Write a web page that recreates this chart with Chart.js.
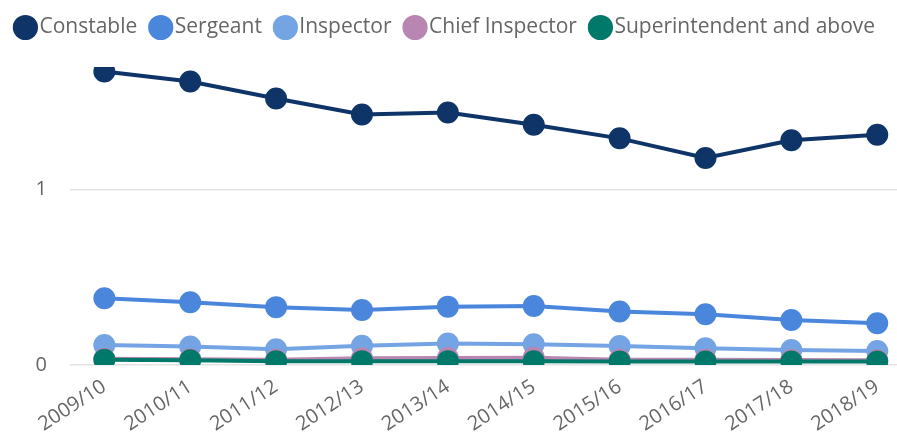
<!DOCTYPE html>
<html>
<head>
<meta charset="utf-8">
<script src="https://cdn.jsdelivr.net/npm/chart.js@4/dist/chart.umd.min.js"></script>
<style>
  html, body { margin: 0; padding: 0; background: #fff; }
  #wrap { width: 897px; height: 433px; position: relative; }
</style>
</head>
<body>
<div id="wrap"><canvas id="c"></canvas></div>
<script>
const categories = ["2009/10","2010/11","2011/12","2012/13","2013/14","2014/15","2015/16","2016/17","2017/18","2018/19"];
const seriesNames = ["Constable","Sergeant","Inspector","Chief Inspector","Superintendent and above"];
const constable = [1.674, 1.617, 1.52, 1.429, 1.44, 1.371, 1.293, 1.181, 1.282, 1.314];
const sergeant = [0.381, 0.358, 0.33, 0.314, 0.333, 0.337, 0.305, 0.29, 0.257, 0.238];
const inspector = [0.114, 0.105, 0.09, 0.11, 0.122, 0.118, 0.108, 0.095, 0.086, 0.08];
const chiefInspector = [0.035, 0.033, 0.03, 0.038, 0.04, 0.042, 0.03, 0.03, 0.028, 0.027];
const superintendent = [0.03, 0.027, 0.022, 0.022, 0.022, 0.021, 0.02, 0.02, 0.02, 0.02];
const yTicks = [0, 1];
const colors = ["#0e3468", "#4a86dc", "#74a4e4", "#b986b1", "#00786a"];

const allSeries = [constable, sergeant, inspector, chiefInspector, superintendent];
const toPoints = arr => arr.map((v, i) => ({ x: i, y: v }));

const datasets = allSeries.map((arr, k) => ({
  label: seriesNames[k],
  data: toPoints(arr),
  borderColor: colors[k],
  backgroundColor: colors[k],
  pointBackgroundColor: colors[k],
  pointBorderColor: colors[k],
  borderWidth: 4,
  pointRadius: 9,
  pointHoverRadius: 9,
  tension: 0,
  order: allSeries.length - 1 - k
}));

Chart.defaults.font.family = "'Open Sans', 'Noto Sans', sans-serif";
Chart.defaults.color = "#666";

const legendSpacer = {
  id: 'legendSpacer',
  beforeInit(chart) {
    const fitOrig = chart.legend.fit;
    chart.legend.fit = function () {
      fitOrig.call(this);
      this.height = 70;
    };
  }
};

new Chart(document.getElementById('c'), {
  type: 'line',
  data: { datasets },
  plugins: [legendSpacer],
  options: {
    responsive: true,
    maintainAspectRatio: false,
    animation: false,
    layout: { autoPadding: false, padding: { left: 0, right: 0, top: -3, bottom: 0 } },
    plugins: {
      legend: {
        position: 'top',
        align: 'center',
        labels: {
          usePointStyle: true,
          pointStyle: 'circle',
          boxWidth: 7,
          boxHeight: 15,
          padding: 20,
          color: '#666',
          font: { size: 21 },
          sort: (a, b) => a.datasetIndex - b.datasetIndex
        }
      },
      tooltip: { enabled: false }
    },
    scales: {
      x: {
        type: 'linear',
        min: -0.4,
        max: 9.23,
        grid: { display: false },
        border: { display: false },
        afterFit: scale => { scale.height = 68; },
        ticks: {
          stepSize: 1,
          autoSkip: false,
          includeBounds: false,
          minRotation: 33,
          maxRotation: 33,
          padding: 2,
          color: '#666',
          font: { size: 20 },
          callback: v => (Number.isInteger(v) && categories[v]) ? categories[v] : ''
        }
      },
      y: {
        min: 0,
        max: 1.7,
        border: { display: false },
        grid: { color: '#e3e3e3', lineWidth: 1.5, drawTicks: false },
        afterBuildTicks: scale => { scale.ticks = yTicks.map(v => ({ value: v })); },
        afterFit: scale => { scale.width = 70; },
        ticks: {
          stepSize: 1,
          includeBounds: false,
          padding: 23,
          color: '#666',
          font: { size: 20 }
        }
      }
    }
  }
});
</script>
</body>
</html>
